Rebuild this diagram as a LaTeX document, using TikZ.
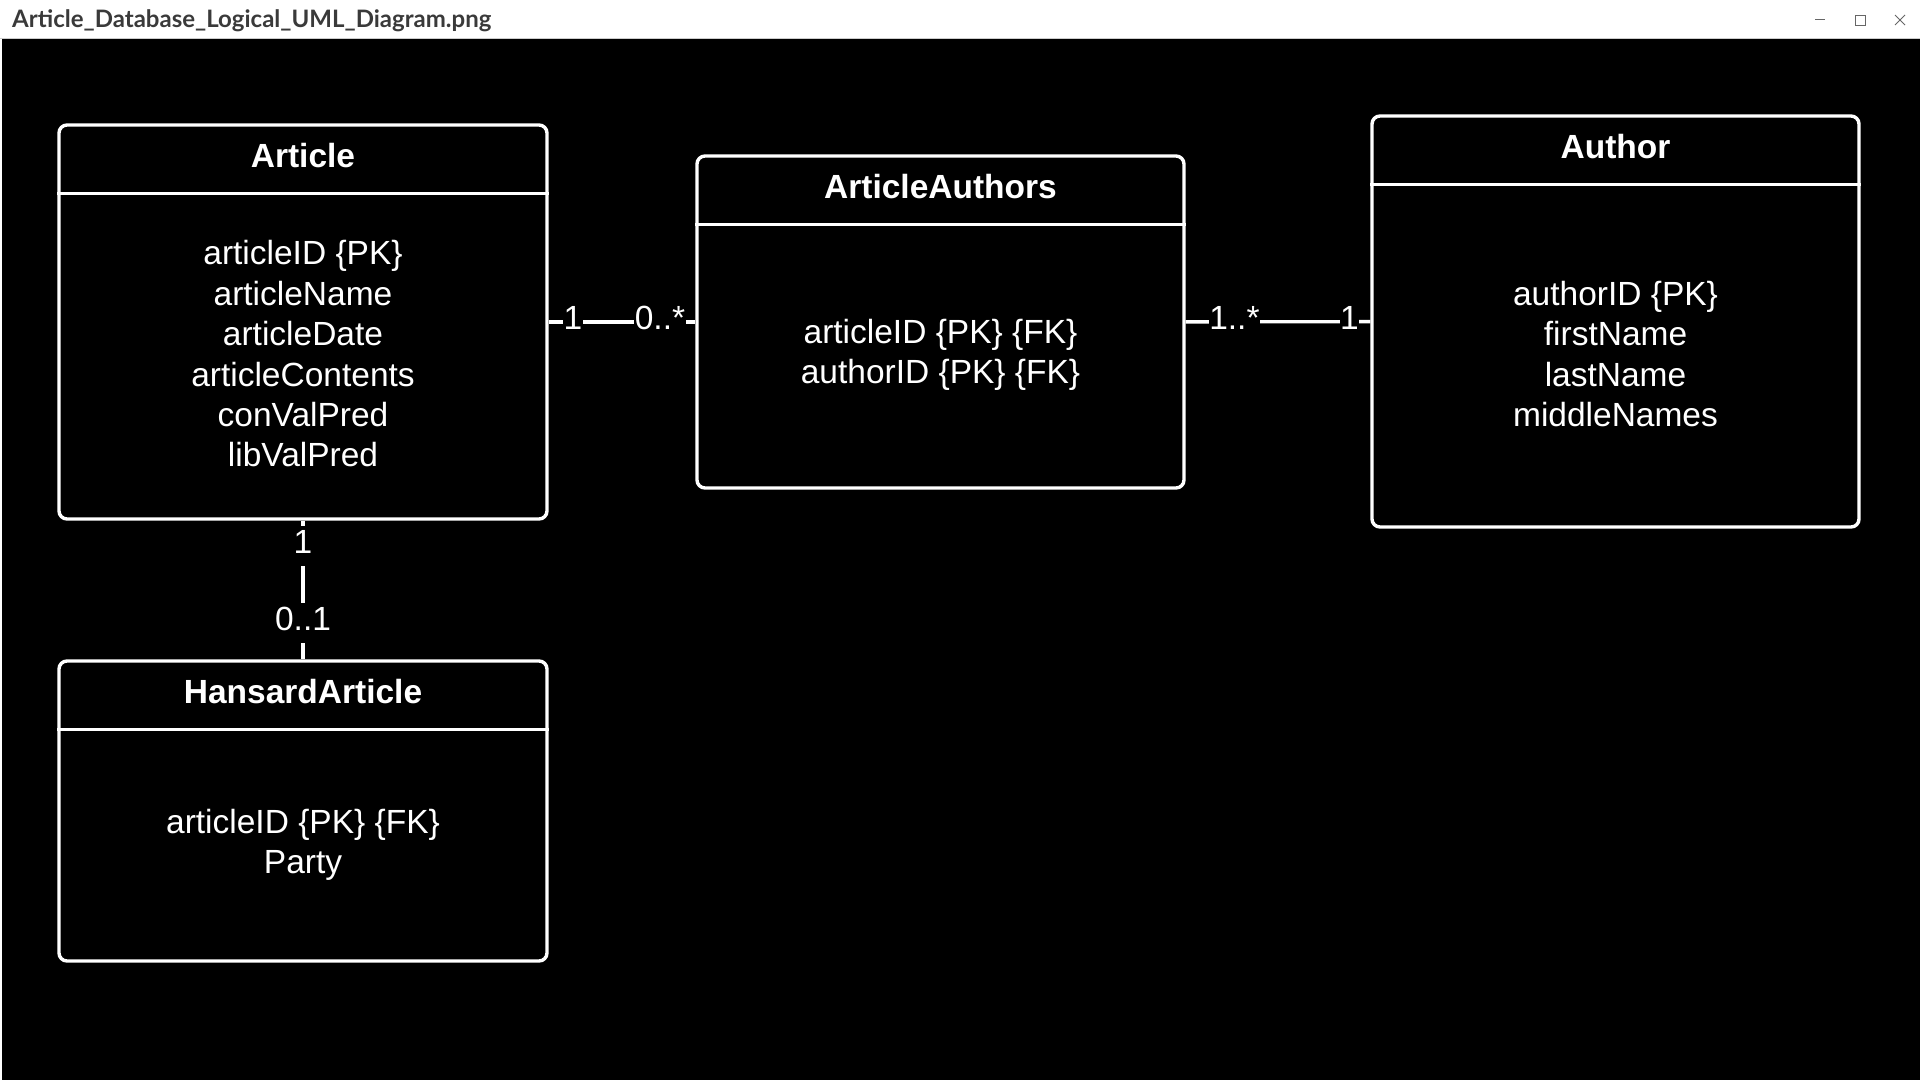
\documentclass[tikz,border=0pt]{standalone}
\usepackage{fontspec}
\setmainfont{Liberation Sans}
\newfontfamily\barfont{Lato}
\usetikzlibrary{positioning}
\definecolor{bartext}{HTML}{3A3A3A}
\definecolor{barline}{HTML}{CCCCCC}
\definecolor{barbutton}{HTML}{666666}

\begin{document}
\begin{tikzpicture}
        [x=1pt, y=-1pt,
        classbox/.style={rectangle, draw=white, line width=3.4pt, rounded corners=8pt, minimum width=488pt, inner sep=0pt},
        classname/.style={text=white, font=\fontsize{33.5}{40.4}\selectfont\bfseries},
        classattr/.style={text=white, align=center, font=\fontsize{33.5}{40.4}\selectfont},
        link/.style={draw=white, line width=3.4pt},
        mult/.style={text=white, fill=black, inner xsep=0.5pt, inner ysep=0pt, text height=27.5pt, text depth=12.5pt, font=\fontsize{33.5}{40.4}\selectfont},]

        % window frame
        \useasboundingbox (0,0) rectangle (1920,1080);
        \fill[white] (0,0) rectangle (1920,39);
        \draw[barline, line width=1pt] (0,38.5) -- (1920,38.5);
        \fill[black] (2,39) rectangle (1920,1080);
        \node[anchor=base west, inner sep=0pt, text=bartext, font=\barfont\fontsize{24}{28}\selectfont\bfseries] (bartitle) at (12,27) {Article\_Database\_Logical\_UML\_Diagram.png};
        \draw[barbutton, line width=1pt] (1815,19.5) -- (1825,19.5);
        \draw[barbutton, line width=1pt] (1855,15) rectangle (1865,25);
        \draw[barbutton, line width=1pt] (1895,15) -- (1905,25) (1895,25) -- (1905,15);

        % classes
        \node[classbox, minimum height=394pt] (article) at (303,322) {};
        \node[classbox, minimum width=487pt, minimum height=332pt] (artauth) at (940.5,322) {};
        \node[classbox, minimum width=487pt, minimum height=411pt] (author) at (1615.5,321.5) {};
        \node[classbox, minimum height=300pt] (hansard) at (303,811) {};

        \draw[link] ([yshift=-70pt]article.north west) -- ([yshift=-70pt]article.north east);
        \draw[link] ([yshift=-70pt]artauth.north west) -- ([yshift=-70pt]artauth.north east);
        \draw[link] ([yshift=-70pt]author.north west) -- ([yshift=-70pt]author.north east);
        \draw[link] ([yshift=-70pt]hansard.north west) -- ([yshift=-70pt]hansard.north east);

        \node[classname] (articlename) at (303,156) {Article};
        \node[classname] (artauthname) at (940.5,187) {ArticleAuthors};
        \node[classname] (authorname) at (1615.5,147) {Author};
        \node[classname] (hansardname) at (303,692) {HansardArticle};

        \node[classattr] (articleattr) at (303,354) {articleID \{PK\}\\articleName\\articleDate\\articleContents\\conValPred\\libValPred};
        \node[classattr] (artauthattr) at (940.5,355) {articleID \{PK\} \{FK\}\\authorID \{PK\} \{FK\}};
        \node[classattr] (authorattr) at (1615.5,354) {authorID \{PK\}\\firstName\\lastName\\middleNames};
        \node[classattr] (hansardattr) at (303,845) {articleID \{PK\} \{FK\}\\Party};

        % associations
        \draw[link] (article) -- (artauth)
            node[mult, pos=0.166] {1}
            node[mult, pos=0.759] {0..*};
        \draw[link] (artauth) -- (author)
            node[mult, pos=0.264] {1..*}
            node[mult, pos=0.887] {1};
        \draw[link] (article) -- (hansard)
            node[mult, pos=0.186] {1}
            node[mult, pos=0.735] {0..1};

    \end{tikzpicture}
\end{document}
